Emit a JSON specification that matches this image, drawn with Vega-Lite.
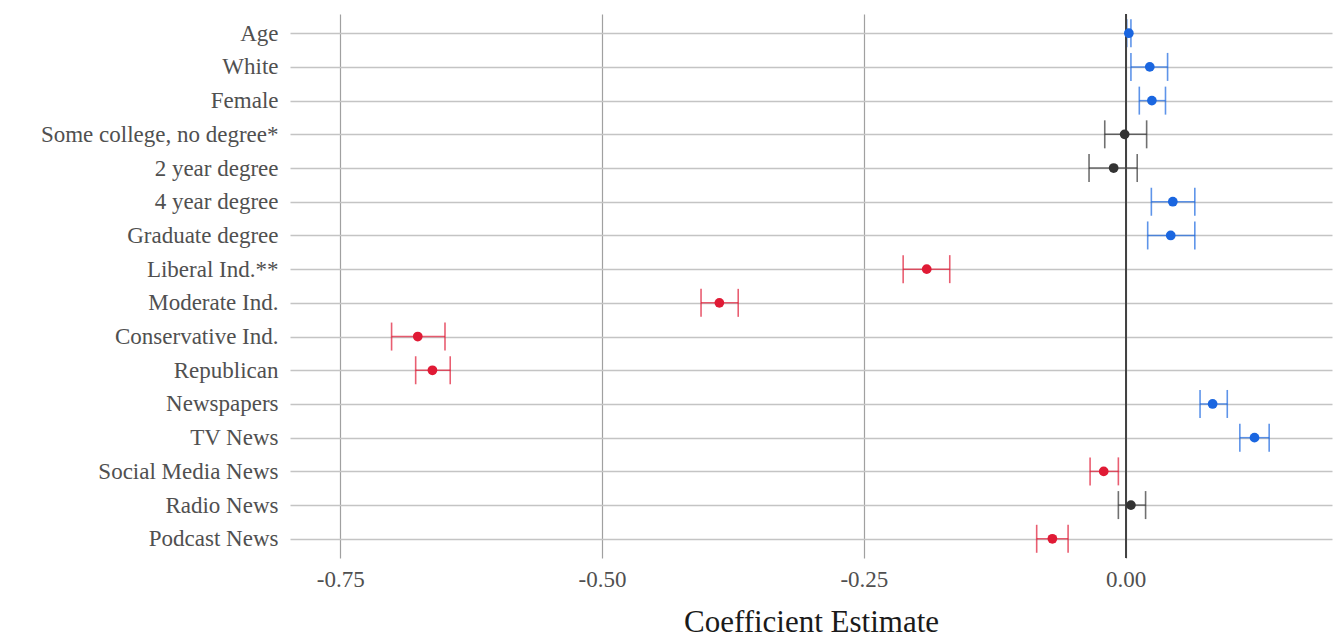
{
  "$schema": "https://vega.github.io/schema/vega-lite/v6.json",
  "width": 1042,
  "height": 544,
  "autosize": {"type": "none"},
  "padding": {"left": 290, "top": 14, "right": 4, "bottom": 83},
  "background": "white",
  "config": {
    "view": {"stroke": null},
    "font": "Liberation Serif"
  },
  "data": {
    "values": [
      {"term": "Age", "est": 0.003, "lo": 0.001, "hi": 0.005, "sig": "pos"},
      {"term": "White", "est": 0.023, "lo": 0.005, "hi": 0.040, "sig": "pos"},
      {"term": "Female", "est": 0.025, "lo": 0.013, "hi": 0.038, "sig": "pos"},
      {"term": "Some college, no degree*", "est": -0.001, "lo": -0.020, "hi": 0.020, "sig": "ns"},
      {"term": "2 year degree", "est": -0.0115, "lo": -0.035, "hi": 0.011, "sig": "ns"},
      {"term": "4 year degree", "est": 0.045, "lo": 0.0245, "hi": 0.066, "sig": "pos"},
      {"term": "Graduate degree", "est": 0.043, "lo": 0.021, "hi": 0.066, "sig": "pos"},
      {"term": "Liberal Ind.**", "est": -0.190, "lo": -0.2125, "hi": -0.168, "sig": "neg"},
      {"term": "Moderate Ind.", "est": -0.388, "lo": -0.4055, "hi": -0.370, "sig": "neg"},
      {"term": "Conservative Ind.", "est": -0.676, "lo": -0.701, "hi": -0.650, "sig": "neg"},
      {"term": "Republican", "est": -0.662, "lo": -0.678, "hi": -0.645, "sig": "neg"},
      {"term": "Newspapers", "est": 0.083, "lo": 0.071, "hi": 0.097, "sig": "pos"},
      {"term": "TV News", "est": 0.123, "lo": 0.109, "hi": 0.137, "sig": "pos"},
      {"term": "Social Media News", "est": -0.021, "lo": -0.034, "hi": -0.007, "sig": "neg"},
      {"term": "Radio News", "est": 0.005, "lo": -0.007, "hi": 0.019, "sig": "ns"},
      {"term": "Podcast News", "est": -0.070, "lo": -0.085, "hi": -0.055, "sig": "neg"}
    ]
  },
  "encoding": {
    "y": {
      "field": "term",
      "type": "nominal",
      "sort": null,
      "scale": {"type": "point", "padding": 0.57},
      "axis": {
        "title": null,
        "grid": true,
        "domain": false,
        "ticks": false,
        "labelFontSize": 23,
        "labelLimit": 0,
        "labelColor": "#505050",
        "labelPadding": 12,
        "gridColor": "#c4c4c4",
        "gridWidth": 1.6
      }
    },
    "color": {
      "field": "sig",
      "type": "nominal",
      "scale": {"domain": ["pos", "ns", "neg"], "range": ["#1a66e0", "#333333", "#e01a35"]},
      "legend": null
    }
  },
  "layer": [
    {
      "mark": {"type": "rule", "strokeWidth": 1.5, "opacity": 0.7},
      "encoding": {
        "x": {
          "field": "lo",
          "type": "quantitative",
          "scale": {"domain": [-0.798, 0.197], "nice": false, "zero": false},
          "axis": {
            "title": "Coefficient Estimate",
            "titleFontSize": 31,
            "titleFontWeight": "normal",
            "titleColor": "#1a1a1a",
            "titlePadding": 16,
            "values": [-0.75, -0.5, -0.25, 0],
            "format": ".2f",
            "labelExpr": "replace(datum.label, '\u2212', '-')",
            "domain": false,
            "ticks": false,
            "labelFontSize": 23,
            "labelColor": "#505050",
            "labelPadding": 10,
            "gridColor": "#a0a0a0",
            "gridWidth": 1.2
          }
        },
        "x2": {"field": "hi"}
      }
    },
    {
      "mark": {"type": "tick", "orient": "vertical", "size": 28, "thickness": 1.6, "opacity": 0.7},
      "encoding": {"x": {"field": "lo", "type": "quantitative"}}
    },
    {
      "mark": {"type": "tick", "orient": "vertical", "size": 28, "thickness": 1.6, "opacity": 0.7},
      "encoding": {"x": {"field": "hi", "type": "quantitative"}}
    },
    {
      "mark": {"type": "rule", "color": "#444444", "strokeWidth": 1.3},
      "encoding": {"x": {"datum": 0}, "y": null, "color": null}
    },
    {
      "mark": {"type": "point", "filled": true, "size": 95, "opacity": 1},
      "encoding": {"x": {"field": "est", "type": "quantitative"}}
    }
  ]
}
